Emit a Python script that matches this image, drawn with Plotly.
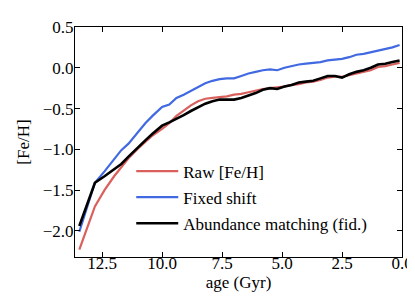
import plotly.graph_objects as go

age = [13.45, 12.8, 12.4, 12.0, 11.7, 11.4, 11.0, 10.7, 10.4, 10.0, 9.7, 9.4, 9.1, 8.8,
       8.5, 8.2, 7.9, 7.6, 7.3, 7.0, 6.7, 6.4, 6.1, 5.8, 5.5, 5.2, 4.9, 4.6, 4.3, 4.0,
       3.7, 3.4, 3.1, 2.8, 2.5, 2.2, 1.9, 1.6, 1.3, 1.0, 0.7, 0.4, 0.1]

raw_feh = [-2.23, -1.70, -1.50, -1.33, -1.22, -1.11, -0.99, -0.91, -0.83, -0.75, -0.68,
           -0.59, -0.52, -0.46, -0.41, -0.38, -0.37, -0.36, -0.35, -0.33, -0.32, -0.30,
           -0.28, -0.26, -0.25, -0.24, -0.23, -0.21, -0.20, -0.18, -0.17, -0.15, -0.12,
           -0.11, -0.11, -0.09, -0.07, -0.05, -0.03, 0.01, 0.02, 0.04, 0.06]

fixed_shift = [-2.01, -1.41, -1.27, -1.12, -1.01, -0.93, -0.78, -0.68, -0.59, -0.48, -0.45,
               -0.37, -0.33, -0.28, -0.23, -0.19, -0.16, -0.14, -0.13, -0.13, -0.10, -0.07,
               -0.05, -0.03, -0.02, -0.03, 0.00, 0.02, 0.04, 0.05, 0.06, 0.07, 0.09,
               0.10, 0.11, 0.13, 0.16, 0.17, 0.19, 0.21, 0.23, 0.25, 0.28]

abund_match = [-1.94, -1.41, -1.33, -1.24, -1.18, -1.09, -0.97, -0.89, -0.81, -0.71, -0.67,
               -0.63, -0.58, -0.53, -0.49, -0.44, -0.41, -0.39, -0.39, -0.39, -0.37, -0.34,
               -0.31, -0.27, -0.25, -0.26, -0.23, -0.21, -0.18, -0.17, -0.16, -0.13, -0.10,
               -0.10, -0.12, -0.08, -0.05, -0.03, 0.00, 0.04, 0.05, 0.07, 0.09]

names = ["Raw [Fe/H]", "Fixed shift", "Abundance matching (fid.)"]
colors = ["#d9605c", "#4169e1", "#000000"]
widths = [2.2, 2.2, 2.6]
series = [raw_feh, fixed_shift, abund_match]

FONT = "Liberation Serif, DejaVu Serif, serif"
FS = 17

fig = go.Figure()
for i, (n, c, w, s) in enumerate(zip(names, colors, widths, series)):
    fig.add_trace(go.Scatter(x=age, y=s, mode="lines", name=n, legendgroup=str(i),
                             line=dict(color=c, width=w)))

axis_common = dict(showline=True, linecolor="black", linewidth=1.2, mirror="allticks",
                   ticks="inside", ticklen=5, tickwidth=1, tickcolor="black",
                   showgrid=False, zeroline=False, tickformat=".1f",
                   tickfont=dict(family=FONT, size=FS, color="black"))

fig.update_layout(
    width=415, height=308,
    margin=dict(l=67, r=10, t=12, b=59),
    paper_bgcolor="white", plot_bgcolor="white",
    font=dict(family=FONT, size=FS, color="black"),
    xaxis=dict(range=[13.63, 0.0], tickvals=[12.5, 10.0, 7.5, 5.0, 2.5, 0.0],
               ticklabelstandoff=-10,
               title=dict(text="age (Gyr)", font=dict(family=FONT, size=FS), standoff=4),
               **axis_common),
    yaxis=dict(range=[-2.32, 0.5], tickvals=[-2.0, -1.5, -1.0, -0.5, 0.0, 0.5],
               ticklabelstandoff=-3,
               title=dict(text="[Fe/H]", font=dict(family=FONT, size=FS), standoff=8),
               **axis_common),
    legend=dict(x=0.172, y=0.45, xanchor="left", yanchor="top", bgcolor="rgba(0,0,0,0)",
                tracegroupgap=1, itemwidth=42, font=dict(family=FONT, size=FS)),
    showlegend=True,
)

fig.write_html("out.html")
